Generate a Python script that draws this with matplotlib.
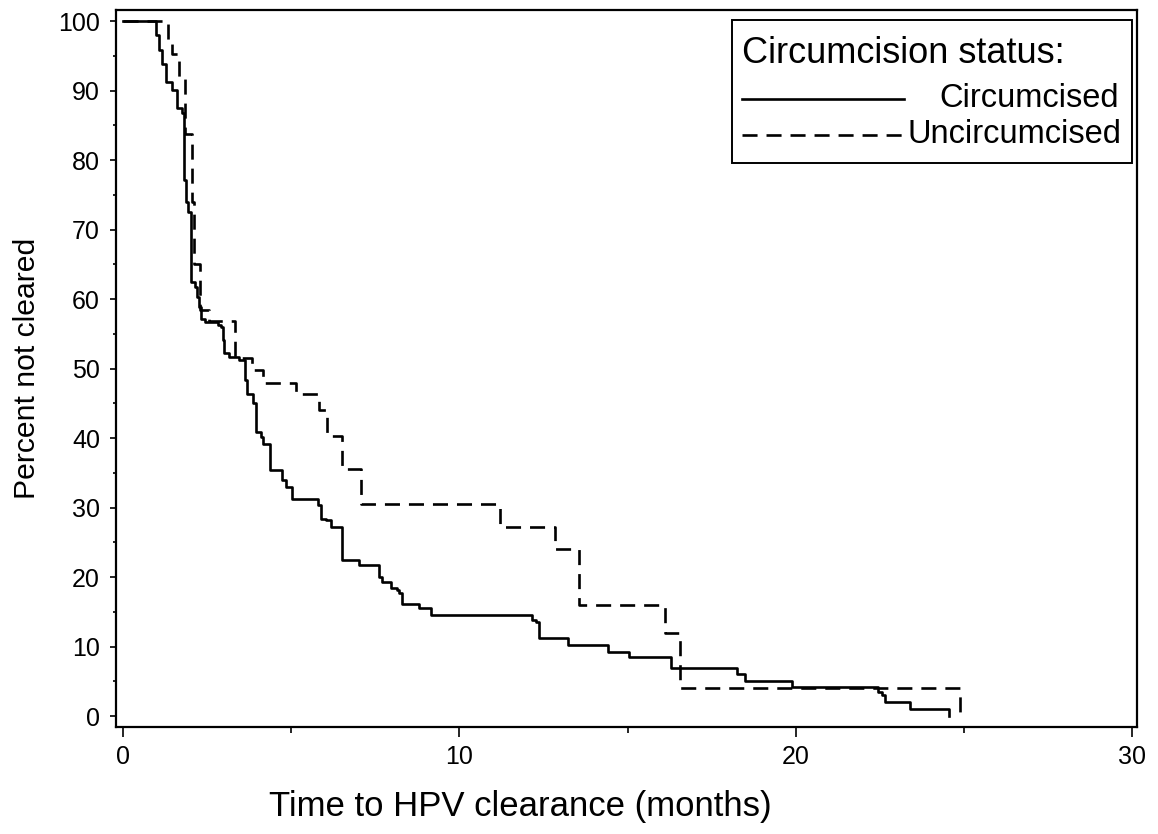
import matplotlib
matplotlib.use("Agg")
import matplotlib.pyplot as plt
from matplotlib.lines import Line2D
from matplotlib.patches import Rectangle

plt.rcParams['font.family'] = ['Liberation Sans', 'DejaVu Sans']

# Kaplan-Meier step data (time in months, percent not cleared)
circ_time = [0, 1.00, 1.08, 1.18, 1.30, 1.45, 1.60, 1.75, 1.83, 1.87, 1.95, 2.03,
             2.15, 2.22, 2.28, 2.33, 2.45, 2.82, 2.92, 2.97, 3.02, 3.15, 3.45,
             3.62, 3.68, 3.88, 3.95, 4.10, 4.16, 4.38, 4.72, 4.85, 5.02, 5.80,
             5.88, 6.03, 6.20, 6.51, 7.02, 7.62, 7.70, 7.98, 8.15, 8.22, 8.30,
             8.80, 9.15, 12.15, 12.28, 12.36, 13.24, 14.43, 15.03, 16.30, 18.25,
             18.50, 19.90, 22.45, 22.55, 22.65, 23.40, 24.54]
circ_surv = [100, 98.0, 95.8, 93.9, 91.3, 90.1, 87.5, 86.8, 77.1, 74.0, 72.6, 62.5,
             61.8, 60.3, 58.9, 57.2, 56.7, 56.3, 56.0, 54.1, 52.2, 51.7, 51.2,
             48.3, 46.4, 45.0, 40.9, 40.2, 39.2, 35.4, 34.0, 33.0, 31.2, 30.4,
             28.4, 28.2, 27.2, 22.4, 21.7, 20.0, 19.3, 18.4, 18.1, 17.7, 16.2,
             15.5, 14.5, 13.8, 13.6, 11.2, 10.2, 9.25, 8.5, 6.9, 6.1,
             5.06, 4.25, 3.5, 3.0, 2.1, 0.96, 0.0]

unc_time = [0, 1.34, 1.46, 1.68, 1.86, 2.07, 2.12, 2.30, 2.55, 3.34, 3.83, 4.18,
            5.15, 5.82, 6.08, 6.51, 7.07, 11.21, 12.85, 13.57, 16.12, 16.56, 24.88]
unc_surv = [100, 96.7, 95.2, 91.9, 83.8, 74.0, 65.0, 58.4, 56.8, 51.6, 49.8, 47.9,
            46.3, 44.0, 40.3, 35.6, 30.5, 27.2, 24.0, 16.0, 12.0, 4.0, 0.0]

legend_title = "Circumcision status:"
labels = ["Circumcised", "Uncircumcised"]

x_major = [0, 10, 20, 30]
x_minor = [5, 15, 25]
y_major = list(range(0, 101, 10))
y_minor = list(range(5, 100, 10))

LW = 1.9
DASH = (0, (5.7, 3.4))

fig = plt.figure(figsize=(11.58, 8.34), dpi=100)
ax = fig.add_axes([0.0999, 0.128, 0.882, 0.860])

ax.step(circ_time, circ_surv, where='post', color='black', lw=LW, linestyle='-')
ax.step(unc_time, unc_surv, where='post', color='black', lw=LW, linestyle=DASH)

ax.set_xlim(-0.21, 30.14)
ax.set_ylim(-1.6, 101.6)

ax.set_xticks(x_major)
ax.set_xticks(x_minor, minor=True)
ax.set_yticks(y_major)
ax.set_yticks(y_minor, minor=True)

for s in ax.spines.values():
    s.set_linewidth(1.6)

ax.tick_params(axis='x', which='major', length=7, width=1.2, pad=6, labelsize=18, direction='out')
ax.tick_params(axis='x', which='minor', length=4.3, width=1.2, direction='out')
ax.tick_params(axis='y', which='major', length=4.3, width=1.2, pad=7, labelsize=18, direction='out')
ax.tick_params(axis='y', which='minor', length=2.2, width=1.2, direction='out')

ax.set_xlabel("Time to HPV clearance (months)", fontsize=25)
ax.xaxis.set_label_coords(0.396, -0.088)
ax.set_ylabel("Percent not cleared", fontsize=21.7, labelpad=12)

# Legend box (manual to reproduce right-aligned label layout)
lx0, lx1, ly0, ly1 = 0.603, 0.995, 0.787, 0.986
ax.add_patch(Rectangle((lx0, ly0), lx1 - lx0, ly1 - ly0, transform=ax.transAxes,
                       fill=False, edgecolor='black', lw=1.4, zorder=5))
ax.text(0.613, 0.940, legend_title, transform=ax.transAxes, fontsize=26,
        ha='left', va='center')
ax.add_line(Line2D([0.613, 0.772], [0.876, 0.876], transform=ax.transAxes,
                   color='black', lw=LW, linestyle='-'))
ax.add_line(Line2D([0.613, 0.772], [0.826, 0.826], transform=ax.transAxes,
                   color='black', lw=LW, linestyle=DASH))
ax.text(0.982, 0.876, labels[0], transform=ax.transAxes, fontsize=23.5,
        ha='right', va='center')
ax.text(0.775, 0.826, labels[1], transform=ax.transAxes, fontsize=23.5,
        ha='left', va='center')

fig.savefig("out.png", dpi=100)
